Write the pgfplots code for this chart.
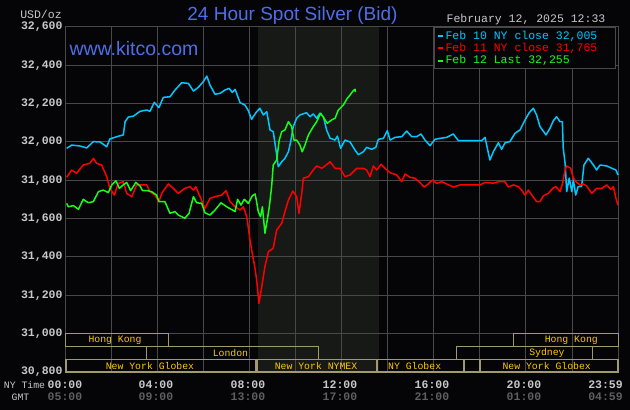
\documentclass[border=0pt]{standalone}
\usepackage{fontspec}
\setmainfont{Liberation Sans}
\setmonofont{Liberation Mono}
\usepackage{pgfplots}
\pgfplotsset{compat=1.18}
\definecolor{bg}{RGB}{5,5,8}
\definecolor{nymexc}{RGB}{22,25,22}
\definecolor{gridc}{RGB}{72,72,72}
\definecolor{axtext}{RGB}{200,200,200}
\definecolor{gmtc}{RGB}{95,95,95}
\definecolor{titleblue}{RGB}{78,110,232}
\definecolor{cyanc}{RGB}{0,200,255}
\definecolor{redc}{RGB}{255,0,0}
\definecolor{greenc}{RGB}{20,255,20}
\definecolor{sessc}{RGB}{160,155,105}
\definecolor{sesstext}{RGB}{255,200,0}

\pgfplotstableread{
h v
0.03 31.967
0.25 31.984
0.61 31.979
0.90 31.969
1.19 32.002
1.48 32.000
1.77 31.975
1.91 32.016
2.27 32.030
2.49 32.037
2.57 32.106
2.71 32.130
2.93 32.135
3.22 32.160
3.51 32.167
3.65 32.160
3.84 32.207
4.04 32.179
4.23 32.233
4.52 32.236
4.74 32.271
5.03 32.309
5.32 32.306
5.54 32.266
5.75 32.285
5.97 32.315
6.12 32.344
6.26 32.297
6.48 32.249
6.70 32.254
6.91 32.271
7.09 32.280
7.23 32.259
7.35 32.275
7.57 32.205
7.78 32.193
7.93 32.163
8.07 32.118
8.14 32.132
8.29 32.158
8.43 32.176
8.58 32.141
8.73 32.158
8.87 32.063
9.01 32.054
9.13 31.958
9.23 31.871
9.38 31.897
9.52 31.915
9.67 31.949
9.77 32.002
9.88 32.080
10.03 32.124
10.17 32.141
10.46 32.153
10.61 32.132
10.75 32.146
10.90 32.124
11.04 32.150
11.19 32.132
11.33 32.063
11.48 32.020
11.70 32.010
11.80 32.031
11.94 31.967
12.13 32.010
12.35 32.000
12.57 31.957
12.71 31.934
12.93 31.949
13.07 31.972
13.29 31.962
13.47 31.972
13.58 32.014
13.80 32.019
13.97 32.059
14.09 32.010
14.30 32.024
14.60 32.028
14.81 32.057
15.03 32.028
15.25 32.028
15.43 32.042
15.61 32.010
15.83 31.981
16.04 32.014
16.26 32.019
16.55 32.024
16.84 32.042
17.06 32.007
18.07 32.007
18.22 32.024
18.32 31.967
18.43 31.906
18.58 31.949
18.80 31.996
18.94 31.962
19.09 31.996
19.30 32.002
19.52 32.045
19.74 32.063
19.96 32.115
20.14 32.153
20.32 32.176
20.46 32.141
20.61 32.080
20.87 32.037
21.04 32.071
21.19 32.111
21.33 32.132
21.48 32.106
21.58 32.106
21.62 31.967
21.70 31.889
21.77 31.741
21.88 31.811
21.99 31.741
22.06 31.802
22.16 31.723
22.27 31.767
22.42 31.770
22.52 31.880
22.71 31.915
22.93 31.880
23.07 31.854
23.22 31.880
23.51 31.875
23.73 31.863
23.91 31.854
24.00 31.828
}\febten

\pgfplotstableread{
h v
0.03 31.816
0.25 31.854
0.46 31.837
0.75 31.880
1.04 31.889
1.19 31.915
1.33 31.889
1.55 31.880
1.77 31.819
1.91 31.758
2.10 31.723
2.27 31.784
2.49 31.793
2.64 31.732
2.86 31.715
3.07 31.776
3.51 31.776
3.65 31.741
3.87 31.723
4.04 31.689
4.16 31.732
4.45 31.781
4.67 31.758
4.88 31.732
5.17 31.758
5.39 31.767
5.54 31.749
5.64 31.767
5.83 31.715
6.04 31.654
6.26 31.706
6.48 31.715
6.77 31.723
6.96 31.746
7.13 31.689
7.35 31.662
7.57 31.645
7.71 31.662
7.86 31.610
8.00 31.489
8.10 31.419
8.22 31.340
8.29 31.280
8.39 31.158
8.51 31.245
8.65 31.350
8.80 31.428
9.01 31.446
9.16 31.541
9.38 31.576
9.52 31.637
9.67 31.697
9.86 31.744
10.03 31.715
10.13 31.628
10.25 31.732
10.32 31.811
10.54 31.819
10.75 31.854
10.90 31.875
11.12 31.863
11.26 31.875
11.48 31.897
11.70 31.863
11.91 31.863
12.13 31.819
12.35 31.828
12.64 31.863
12.93 31.863
13.07 31.854
13.22 31.819
13.36 31.875
13.51 31.854
13.70 31.884
13.87 31.863
14.09 31.840
14.38 31.828
14.60 31.793
14.74 31.833
14.96 31.816
15.17 31.811
15.39 31.789
15.57 31.765
15.75 31.781
15.93 31.802
16.12 31.784
16.33 31.793
16.55 31.781
16.84 31.765
17.13 31.776
18.00 31.776
18.22 31.789
18.58 31.785
18.80 31.793
19.09 31.793
19.23 31.765
19.45 31.776
19.67 31.767
19.81 31.749
19.96 31.723
20.10 31.749
20.32 31.712
20.46 31.689
20.61 31.689
20.75 31.719
20.97 31.732
21.16 31.758
21.30 31.767
21.48 31.741
21.59 31.784
21.70 31.854
21.77 31.875
21.94 31.863
22.06 31.811
22.20 31.789
22.35 31.776
22.49 31.781
22.64 31.770
22.86 31.732
23.07 31.758
23.29 31.758
23.51 31.776
23.68 31.753
23.80 31.767
23.91 31.706
24.00 31.671
}\febeleven

\pgfplotstableread{
h v
0.03 31.680
0.10 31.662
0.32 31.668
0.54 31.649
0.75 31.701
0.97 31.683
1.19 31.689
1.41 31.741
1.62 31.749
1.84 31.736
1.99 31.776
2.17 31.798
2.32 31.758
2.49 31.776
2.64 31.789
2.81 31.746
3.04 31.789
3.22 31.770
3.33 31.746
3.54 31.746
3.72 31.741
3.94 31.723
4.04 31.689
4.30 31.689
4.52 31.628
4.74 31.637
4.88 31.619
5.17 31.602
5.35 31.628
5.54 31.715
5.68 31.683
5.90 31.680
6.04 31.631
6.26 31.619
6.48 31.645
6.74 31.683
6.99 31.662
7.35 31.637
7.46 31.701
7.61 31.671
7.75 31.701
7.93 31.680
8.10 31.719
8.22 31.729
8.26 31.706
8.36 31.637
8.46 31.610
8.54 31.662
8.65 31.524
8.75 31.593
8.84 31.662
8.94 31.767
9.01 31.880
9.16 31.906
9.27 32.010
9.38 32.054
9.52 32.063
9.67 32.106
9.81 32.080
9.91 32.010
10.03 32.010
10.17 31.984
10.27 31.949
10.39 31.984
10.54 32.037
10.75 32.080
10.90 32.106
11.07 32.150
11.19 32.129
11.36 32.098
11.55 32.115
11.70 32.124
11.84 32.167
12.06 32.193
12.23 32.228
12.35 32.245
12.49 32.268
12.57 32.275
12.58 32.260
}\febtwelve

\begin{document}
\begin{tikzpicture}
\fill[bg] (0pt,0pt) rectangle (630pt,410pt);
% NYMEX trading hours (8:20 - 13:36), drawn behind the grid
\fill[nymexc] (258.05pt,38pt) rectangle (378.8pt,383pt);
\begin{axis}[
  at={(66pt,38pt)}, anchor=south west,
  width=552pt, height=345pt, scale only axis,
  xmin=0, xmax=24, ymin=30.8, ymax=32.6,
  axis line style={draw=gridc, line width=1pt},
  xtick={0,2,4,6,8,10,12,14,16,18,20,22,24},
  xticklabels={},
  ytick={30.8,31,31.2,31.4,31.6,31.8,32,32.2,32.4,32.6},
  yticklabels={{30,800},{31,000},{31,200},{31,400},{31,600},{31,800},{32,000},{32,200},{32,400},{32,600}},
  yticklabel style={font=\ttfamily\bfseries\fontsize{11.5}{12}\selectfont, text=axtext, anchor=east},
  major tick length=0pt,
  grid=major,
  grid style={draw=gridc, line width=1pt},
  clip=false,
  legend style={at={(0.6667,1)}, anchor=north west, fill=bg, draw=gridc, line width=1pt,
    font=\ttfamily\fontsize{11.5}{12}\selectfont, row sep=-1.5pt, inner xsep=2pt, inner ysep=1.5pt},
  legend cell align=left,
  legend image code/.code={\draw[#1, line width=2pt] (0pt,0pt) -- (5pt,0pt);},
]
\addplot[cyanc, line width=1.5pt, line join=round] table[x=h,y=v] {\febten};
\addlegendentry{\textcolor{cyanc}{\makebox[166pt][l]{Feb 10 NY close 32,005}}}
\addplot[redc, line width=1.5pt, line join=round] table[x=h,y=v] {\febeleven};
\addlegendentry{\textcolor{redc}{\makebox[166pt][l]{Feb 11 NY close 31,765}}}
\addplot[greenc, line width=1.5pt, line join=round] table[x=h,y=v] {\febtwelve};
\addlegendentry{\textcolor{greenc}{\makebox[166pt][l]{Feb 12 Last 32,255}}}

% market sessions
\tikzset{sess/.style={draw=sessc, line width=1pt}, slab/.style={font=\ttfamily\fontsize{9.8}{10}\selectfont, text=sesstext, inner sep=0pt}}
\draw[sess] (axis cs:0,31.0) rectangle (axis cs:4.47,30.934);
\draw[sess] (axis cs:19.46,31.0) rectangle (axis cs:24,30.934);
\draw[sess] (axis cs:3.5,30.934) rectangle (axis cs:11.0,30.866);
\draw[sess] (axis cs:17.0,30.934) rectangle (axis cs:22.9,30.866);
\draw[sess, line width=1.4pt] (axis cs:0,30.866) rectangle (axis cs:8.26,30.8);
\draw[sess, line width=1.4pt] (axis cs:8.3,30.866) rectangle (axis cs:13.5,30.8);
\draw[sess, line width=1.4pt] (axis cs:13.54,30.866) rectangle (axis cs:17.3,30.8);
\draw[sess, line width=1.4pt] (axis cs:17.3,30.866) rectangle (axis cs:18.0,30.8);
\draw[sess, line width=1.4pt] (axis cs:18.0,30.866) rectangle (axis cs:24,30.8);
\node[slab] at (axis cs:2.13,30.967) {Hong Kong};
\node[slab] at (axis cs:21.97,30.967) {Hong Kong};
\node[slab] at (axis cs:7.15,30.900) {London};
\node[slab] at (axis cs:20.91,30.900) {Sydney};
\node[slab] at (axis cs:3.65,30.833) {New York Globex};
\node[slab] at (axis cs:10.87,30.833) {New York NYMEX};
\node[slab] at (axis cs:15.16,30.833) {NY Globex};
\node[slab] at (axis cs:20.9,30.833) {New York Globex};

% time labels
\tikzset{nyt/.style={font=\ttfamily\bfseries\fontsize{11.5}{12}\selectfont, text=axtext, inner sep=0pt},
         gmt/.style={font=\ttfamily\bfseries\fontsize{11.5}{12}\selectfont, text=gmtc, inner sep=0pt}}
\node[nyt, yshift=-13pt, xshift=-1pt] at (axis cs:0,30.8) {00:00};
\node[nyt, yshift=-13pt, xshift=-2pt] at (axis cs:4,30.8) {04:00};
\node[nyt, yshift=-13pt, xshift=-2pt] at (axis cs:8,30.8) {08:00};
\node[nyt, yshift=-13pt, xshift=-2pt] at (axis cs:12,30.8) {12:00};
\node[nyt, yshift=-13pt, xshift=-2pt] at (axis cs:16,30.8) {16:00};
\node[nyt, yshift=-13pt, xshift=-2pt] at (axis cs:20,30.8) {20:00};
\node[nyt, yshift=-13pt, anchor=east, xshift=5pt] at (axis cs:24,30.8) {23:59};
\node[gmt, yshift=-25pt, xshift=-1pt] at (axis cs:0,30.8) {05:00};
\node[gmt, yshift=-25pt, xshift=-2pt] at (axis cs:4,30.8) {09:00};
\node[gmt, yshift=-25pt, xshift=-2pt] at (axis cs:8,30.8) {13:00};
\node[gmt, yshift=-25pt, xshift=-2pt] at (axis cs:12,30.8) {17:00};
\node[gmt, yshift=-25pt, xshift=-2pt] at (axis cs:16,30.8) {21:00};
\node[gmt, yshift=-25pt, xshift=-2pt] at (axis cs:20,30.8) {01:00};
\node[gmt, yshift=-25pt, anchor=east, xshift=5pt] at (axis cs:24,30.8) {04:59};
\end{axis}

\node[font=\ttfamily\fontsize{9.8}{10}\selectfont, text=axtext, inner sep=0pt] at (24.5pt,25pt) {NY Time};
\node[font=\ttfamily\fontsize{9.8}{10}\selectfont, text=axtext, inner sep=0pt] at (20.5pt,13pt) {GMT};
\node[font=\fontsize{19}{19}\selectfont, text=titleblue, inner sep=0pt] at (292.5pt,394pt) {24 Hour Spot Silver (Bid)};
\node[font=\ttfamily\fontsize{11.5}{12}\selectfont, text=axtext, inner sep=0pt] at (41pt,396pt) {USD/oz};
\node[font=\ttfamily\fontsize{11.5}{12}\selectfont, text=axtext, inner sep=0pt] at (526pt,390pt) {February 12, 2025 12:33};
\node[font=\fontsize{19.5}{20}\selectfont, text=titleblue, inner sep=0pt] at (134pt,361pt) {www.kitco.com};
\pgfresetboundingbox
\useasboundingbox (0pt,0pt) rectangle (630pt,410pt);
\end{tikzpicture}
\end{document}
